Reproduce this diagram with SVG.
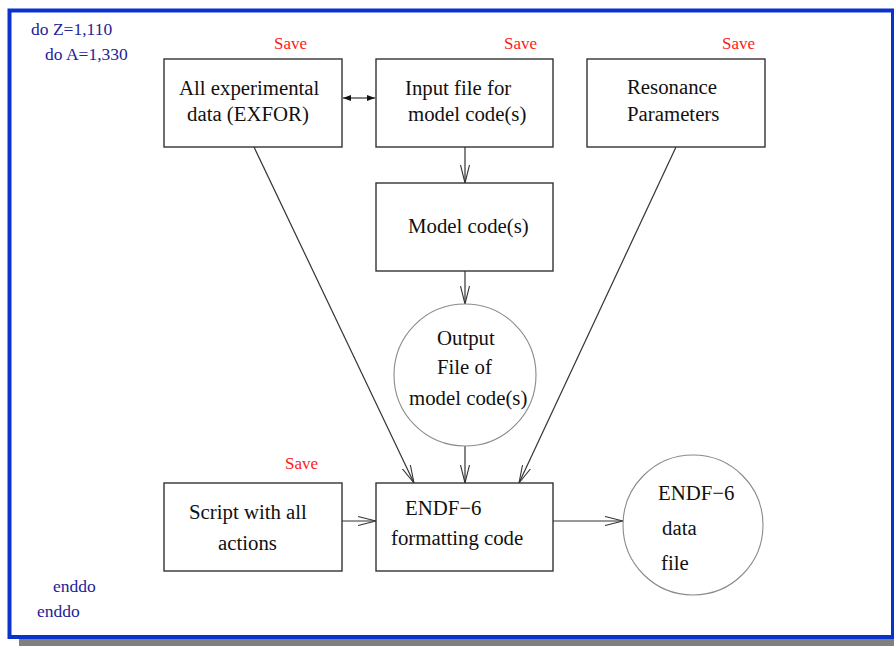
<svg xmlns="http://www.w3.org/2000/svg" width="894" height="646" viewBox="0 0 894 646">
<defs>
<style>
.box{fill:#fff;stroke:#333;stroke-width:1.4}
.circ{fill:#fff;stroke:#8a8a8a;stroke-width:1.1}
.lbl{font-family:"Liberation Serif","Times New Roman",serif;font-size:20.8px;fill:#111}
.save{font-family:"Liberation Serif","Times New Roman",serif;font-size:17px;fill:#ff1a1a}
.loop{font-family:"Liberation Serif","Times New Roman",serif;font-size:17.5px;fill:#23239a}
.con{fill:none;stroke:#333;stroke-width:1.2}
</style>
<marker id="open" viewBox="0 0 18 10" refX="18" refY="5" markerWidth="18" markerHeight="10" orient="auto" markerUnits="userSpaceOnUse">
<path d="M0,0.5 L18,5 L0,9.5" fill="none" stroke="#333" stroke-width="1.1"/>
</marker>
<marker id="solid" viewBox="0 0 8 6" refX="8" refY="3" markerWidth="8" markerHeight="6" orient="auto-start-reverse" markerUnits="userSpaceOnUse">
<path d="M0,0 L8,3 L0,6 z" fill="#111"/>
</marker>
</defs>
<rect x="0" y="0" width="894" height="646" fill="#fff"/>
<rect x="19" y="639" width="875" height="7" fill="#808080"/>
<rect x="9.5" y="10.5" width="883.5" height="626.5" fill="#fff" stroke="#0a33cc" stroke-width="4"/>

<g id="loops">
<text class="loop" x="31" y="35">do Z=1,110</text>
<text class="loop" x="45" y="60">do A=1,330</text>
<text class="loop" x="53" y="592">enddo</text>
<text class="loop" x="37" y="617">enddo</text>
</g>

<g id="connectors">
<path class="con" d="M343,98 L375,98" marker-start="url(#solid)" marker-end="url(#solid)"/>
<path class="con" d="M465,147 L465,183" marker-end="url(#open)"/>
<path class="con" d="M465,271 L465,304" marker-end="url(#open)"/>
<path class="con" d="M465,446 L465,483" marker-end="url(#open)"/>
<path class="con" d="M254,147 L414,483" marker-end="url(#open)"/>
<path class="con" d="M676,147 L519,483" marker-end="url(#open)"/>
<path class="con" d="M342,521 L376,521" marker-end="url(#open)"/>
<path class="con" d="M553,521 L623,521" marker-end="url(#open)"/>
</g>

<g id="exfor">
<rect class="box" x="164" y="59" width="178" height="88"/>
<text class="lbl" x="179" y="95">All experimental</text>
<text class="lbl" x="187" y="121">data (EXFOR)</text>
<text class="save" x="274" y="49">Save</text>
</g>

<g id="input">
<rect class="box" x="376" y="59" width="177" height="88"/>
<text class="lbl" x="405" y="95">Input file for</text>
<text class="lbl" x="408" y="121">model code(s)</text>
<text class="save" x="504" y="49">Save</text>
</g>

<g id="resonance">
<rect class="box" x="587" y="59" width="178" height="88"/>
<text class="lbl" x="627" y="94">Resonance</text>
<text class="lbl" x="627" y="121">Parameters</text>
<text class="save" x="722" y="49">Save</text>
</g>

<g id="model">
<rect class="box" x="376" y="183" width="177" height="88"/>
<text class="lbl" x="408" y="233">Model code(s)</text>
</g>

<g id="output">
<circle class="circ" cx="465" cy="375" r="71"/>
<text class="lbl" x="437" y="345">Output</text>
<text class="lbl" x="437" y="374">File of</text>
<text class="lbl" x="409" y="405">model code(s)</text>
</g>

<g id="script">
<rect class="box" x="164" y="483" width="178" height="88"/>
<text class="lbl" x="189" y="519">Script with all</text>
<text class="lbl" x="218" y="550">actions</text>
<text class="save" x="285" y="469">Save</text>
</g>

<g id="formatting">
<rect class="box" x="376" y="483" width="177" height="88"/>
<text class="lbl" x="405" y="515">ENDF−6</text>
<text class="lbl" x="391" y="545">formatting code</text>
</g>

<g id="datafile">
<circle class="circ" cx="693" cy="525" r="70"/>
<text class="lbl" x="658" y="500">ENDF−6</text>
<text class="lbl" x="662" y="535">data</text>
<text class="lbl" x="661" y="570">file</text>
</g>
</svg>
